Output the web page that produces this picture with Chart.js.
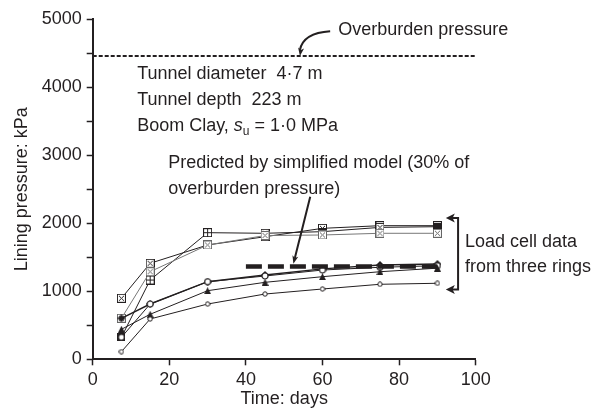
<!DOCTYPE html>
<html><head><meta charset="utf-8">
<script src="https://cdn.jsdelivr.net/npm/chart.js@4/dist/chart.umd.min.js"></script>
<style>html,body{margin:0;padding:0;background:#fff}#wrap{width:604px;height:410px}</style>
</head><body><div id="wrap"><canvas id="c" width="604" height="410"></canvas></div>
<script>
const days = [7.5, 15, 30, 45, 60, 75, 90];
const upperCellA = [897, 1412, 1681, 1803, 1926, 1965, 1965];
const upperCellB = [324, 1166, 1862, 1853, 1877, 1940, 1950];
const upperCellC = [603, 1288, 1681, 1820, 1828, 1853, 1853];
const lowerCellA = [603, 813, 1141, 1240, 1330, 1387, 1401];
const lowerCellB = [324, 813, 1141, 1225, 1313, 1353, 1376];
const lowerCellC = [441, 662, 1009, 1132, 1215, 1288, 1340];
const lowerCellD = [112, 593, 813, 960, 1034, 1103, 1118];
const overburdenPressure = 4460;
const overburdenSpan = [0, 100];
const predictedPressure = 1365;
const predictedSpan = [40, 90];
const xTicks = [0, 20, 40, 60, 80, 100];
const yTicks = [0, 1000, 2000, 3000, 4000, 5000];

const FONT = '"Liberation Sans", Arial, sans-serif';
const INK = '#231f20';
const FS = 18;

function mk(size, draw){const c=document.createElement('canvas');c.width=c.height=size;const g=c.getContext('2d');draw(g,size);return c;}
const boxX = (col)=>mk(9,(g,s)=>{g.fillStyle='#fff';g.fillRect(0.5,0.5,s-1,s-1);g.strokeStyle=col;g.lineWidth=1;g.strokeRect(0.5,0.5,s-1,s-1);g.beginPath();g.moveTo(2,2);g.lineTo(s-2,s-2);g.moveTo(s-2,2);g.lineTo(2,s-2);g.stroke();});
const boxPlus = mk(9,(g,s)=>{g.fillStyle='#fff';g.fillRect(0.5,0.5,s-1,s-1);g.strokeStyle=INK;g.lineWidth=1;g.strokeRect(0.5,0.5,s-1,s-1);g.beginPath();g.moveTo(4.5,1);g.lineTo(4.5,s-1);g.moveTo(1,4.5);g.lineTo(s-1,4.5);g.stroke();});
const fsq = mk(8,(g,s)=>{g.fillStyle=INK;g.fillRect(0,0,s,s);});
const fdia = mk(8,(g,s)=>{g.fillStyle=INK;g.beginPath();g.moveTo(4,0);g.lineTo(8,4);g.lineTo(4,8);g.lineTo(0,4);g.closePath();g.fill();});
const ftri = mk(7,(g,s)=>{g.fillStyle=INK;g.beginPath();g.moveTo(3.5,0);g.lineTo(7,7);g.lineTo(0,7);g.closePath();g.fill();});
const ocirc = mk(6,(g,s)=>{g.fillStyle='#fff';g.strokeStyle=INK;g.lineWidth=1;g.beginPath();g.arc(3,3,2.2,0,Math.PI*2);g.fill();g.stroke();});
const oring = mk(8,(g,s)=>{g.fillStyle='#fff';g.strokeStyle=INK;g.lineWidth=1.2;g.beginPath();g.arc(4,4,3,0,Math.PI*2);g.fill();g.stroke();});
const boxXK = boxX(INK), boxXG = boxX('#666');

const pts = arr => arr.map((v,i)=>({x:days[i], y:v}));
function series(arr, style, color, width){
  return {data: pts(arr), showLine:true, borderColor:color, borderWidth:width||1, pointStyle:style, pointRadius:4, pointHoverRadius:4, backgroundColor:color, order:1};
}
const datasets = [
  series(lowerCellD, ocirc, INK),
  series(lowerCellC, ftri, INK),
  series(lowerCellB, oring, INK),
  series(lowerCellA, fdia, INK, 1.4),
  series(upperCellC, boxXG, '#777'),
  series(upperCellB, [fsq, boxPlus, boxPlus, boxXK, fsq, boxXK, fsq], INK),
  series(upperCellA, boxXK, INK),
  {data: overburdenSpan.map(x=>({x, y:overburdenPressure})), showLine:true, borderColor:INK, borderWidth:2, borderDash:[4,2], pointRadius:0, order:0},
  {data: predictedSpan.map(x=>({x, y:predictedPressure})), showLine:true, borderColor:INK, borderWidth:4.5, borderDash:[16,6], pointRadius:0, order:0}
];

// annotation anchors in data units
const notes = {
  overText: {x:64.1, y:4843, t:'Overburden pressure'},
  tunnel: [{x:11.6, y:4196, t:'Tunnel diameter  4·7 m'},{x:11.6, y:3813, t:'Tunnel depth  223 m'}],
  clay: {x:11.6, y:3431},
  pred: [{x:19.7, y:2887, t:'Predicted by simplified model (30% of'},{x:19.7, y:2504, t:'overburden pressure)'}],
  load: [{x:97.2, y:1725, t:'Load cell data'},{x:97.2, y:1357, t:'from three rings'}],
  overArrow: {sx:62.0, sy:4825, cx:55.0, cy:4800, ex:54.1, ey:4462},
  predArrow: {sx:56.8, sy:2390, ex:52.4, ey:1405},
  bracket: {x:95.4, tip:92.2, top:2078, bot:1026}
};

function arrowHead(g, x, y, ang, len, wid){
  g.save();g.translate(x,y);g.rotate(ang);g.beginPath();g.moveTo(0,0);g.lineTo(-len,-wid/2);g.lineTo(-len*0.75,0);g.lineTo(-len,wid/2);g.closePath();g.fill();g.restore();
}

const annot = {
  id:'annot',
  afterDatasetsDraw(chart){
    const g=chart.ctx, X=chart.scales.x, Y=chart.scales.y;
    const px=v=>X.getPixelForValue(v), py=v=>Y.getPixelForValue(v);
    g.save();
    g.fillStyle=INK; g.strokeStyle=INK;
    g.font=FS+'px '+FONT; g.textBaseline='middle'; g.textAlign='left';
    const put=o=>g.fillText(o.t, px(o.x), py(o.y));
    put(notes.overText); notes.tunnel.forEach(put); notes.pred.forEach(put); notes.load.forEach(put);
    // Boom Clay line with italic s and subscript u
    let cx=px(notes.clay.x); const cy=py(notes.clay.y);
    const seg1='Boom Clay, '; g.fillText(seg1,cx,cy); cx+=g.measureText(seg1).width;
    g.font='italic '+FS+'px '+FONT; g.fillText('s',cx,cy); cx+=g.measureText('s').width;
    g.font='12px '+FONT; g.fillText('u',cx,cy+6); cx+=g.measureText('u').width;
    g.font=FS+'px '+FONT; g.fillText(' = 1·0 MPa',cx,cy);
    // curved arrow to overburden line
    const a=notes.overArrow;
    g.lineWidth=2; g.beginPath(); g.moveTo(px(a.sx),py(a.sy)); g.quadraticCurveTo(px(a.cx),py(a.cy),px(a.ex),py(a.ey)-6); g.stroke();
    arrowHead(g, px(a.ex), py(a.ey), Math.atan2(py(a.ey)-py(a.cy), px(a.ex)-px(a.cx)), 8, 6);
    // straight arrow to predicted line
    const b=notes.predArrow;
    const ang=Math.atan2(py(b.ey)-py(b.sy), px(b.ex)-px(b.sx));
    g.beginPath(); g.moveTo(px(b.sx),py(b.sy)); g.lineTo(px(b.ex)-6*Math.cos(ang),py(b.ey)-6*Math.sin(ang)); g.stroke();
    arrowHead(g, px(b.ex), py(b.ey), ang, 8, 6);
    // bracket
    const k=notes.bracket;
    g.beginPath(); g.moveTo(px(k.tip)+5,py(k.top)); g.lineTo(px(k.x),py(k.top)); g.lineTo(px(k.x),py(k.bot)); g.lineTo(px(k.tip)+5,py(k.bot)); g.stroke();
    arrowHead(g, px(k.tip), py(k.top), Math.PI, 9, 9);
    arrowHead(g, px(k.tip), py(k.bot), Math.PI, 9, 9);
    g.restore();
  }
};

new Chart(document.getElementById('c'), {
  type:'scatter',
  data:{datasets},
  options:{
    responsive:false, animation:false, devicePixelRatio:1,
    layout:{padding:{left:0, right:128.3, top:19.3, bottom:0}},
    plugins:{legend:{display:false}, tooltip:{enabled:false}},
    elements:{line:{tension:0}},
    scales:{
      x:{type:'linear', min:0, max:100,
        afterBuildTicks:s=>{s.ticks=xTicks.map(v=>({value:v}));},
        afterFit:s=>{s.height=50.7;},
        grid:{drawOnChartArea:false, tickLength:6, tickColor:INK, tickWidth:1.5},
        border:{color:INK, width:2},
        ticks:{color:INK, font:{family:FONT, size:FS}, padding:4, maxRotation:0},
        title:{display:true, text:'Time: days', color:INK, font:{family:FONT, size:FS}, padding:{top:0,bottom:0}}
      },
      y:{type:'linear', min:0, max:5000,
        ticks:{stepSize:500, color:INK, font:{family:FONT, size:FS}, padding:5, callback:v=>yTicks.includes(v)?String(v):''},
        afterFit:s=>{s.width=92.7;},
        grid:{drawOnChartArea:false, tickLength:6, tickColor:INK, tickWidth:1.5},
        border:{color:INK, width:2},
        title:{display:true, text:'Lining pressure: kPa', color:INK, font:{family:FONT, size:FS}, padding:{top:11,bottom:0}}
      }
    }
  },
  plugins:[annot]
});
</script></body></html>
